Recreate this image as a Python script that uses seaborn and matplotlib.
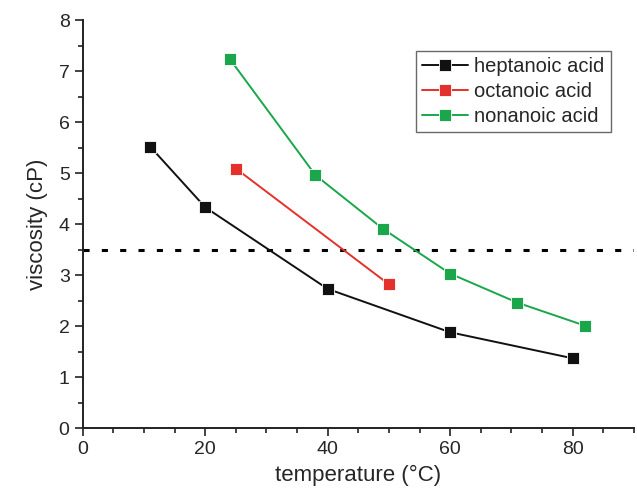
import matplotlib
matplotlib.use("Agg")
import matplotlib.pyplot as plt
from matplotlib.ticker import MultipleLocator
import seaborn as sns
import pandas as pd

# viscosity vs temperature
hept_t = [11, 20, 40, 60, 80]
hept_v = [5.52, 4.33, 2.73, 1.88, 1.37]
oct_t = [25, 50]
oct_v = [5.09, 2.82]
non_t = [24, 38, 49, 60, 71, 82]
non_v = [7.24, 4.96, 3.91, 3.03, 2.46, 2.01]
threshold = 3.5

names = ["heptanoic acid", "octanoic acid", "nonanoic acid"]
colors = ["#111111", "#e4312b", "#1aa64b"]


def main():
    sns.set_style("ticks")
    plt.rcParams["font.family"] = ["Liberation Sans", "DejaVu Sans"]

    df = pd.concat([
        pd.DataFrame({"t": hept_t, "v": hept_v, "acid": names[0]}),
        pd.DataFrame({"t": oct_t, "v": oct_v, "acid": names[1]}),
        pd.DataFrame({"t": non_t, "v": non_v, "acid": names[2]}),
    ])

    fig = plt.figure(figsize=(6.37, 4.91), dpi=100)
    ax = fig.add_axes([0.130, 0.128, 0.865, 0.831])

    ax.axhline(threshold, color="black", ls=(0, (2, 4)), lw=2.2, zorder=1)

    sns.lineplot(data=df, x="t", y="v", hue="acid", palette=dict(zip(names, colors)),
                 marker="s", markersize=8, markeredgecolor="white", markeredgewidth=0.6,
                 lw=1.4, ax=ax, sort=False, zorder=3)

    ax.set_xlim(0, 90)
    ax.set_ylim(0, 8)
    ax.xaxis.set_major_locator(MultipleLocator(20))
    ax.xaxis.set_minor_locator(MultipleLocator(5))
    ax.yaxis.set_major_locator(MultipleLocator(1))
    ax.yaxis.set_minor_locator(MultipleLocator(0.5))
    ax.tick_params(which="major", length=6, width=1.2, labelsize=14, color="#222222")
    ax.tick_params(which="minor", length=3.5, width=1.2, color="#222222")
    for s in ["left", "bottom"]:
        ax.spines[s].set_linewidth(1.4)
        ax.spines[s].set_color("#222222")
    sns.despine(ax=ax)

    ax.set_xlabel("temperature (°C)", fontsize=16, labelpad=5)
    ax.set_ylabel("viscosity (cP)", fontsize=16, labelpad=8)

    leg = ax.legend(loc="upper right", bbox_to_anchor=(0.958, 0.925), fontsize=14.5,
                    frameon=True, fancybox=False, edgecolor="#444444",
                    handlelength=2.3, handletextpad=0.3, borderpad=0.3,
                    labelspacing=0.3, borderaxespad=0, title=None)
    leg.get_frame().set_linewidth(1.0)

    fig.savefig("out.png", dpi=100)
    plt.close(fig)


if __name__ == "__main__":
    main()
